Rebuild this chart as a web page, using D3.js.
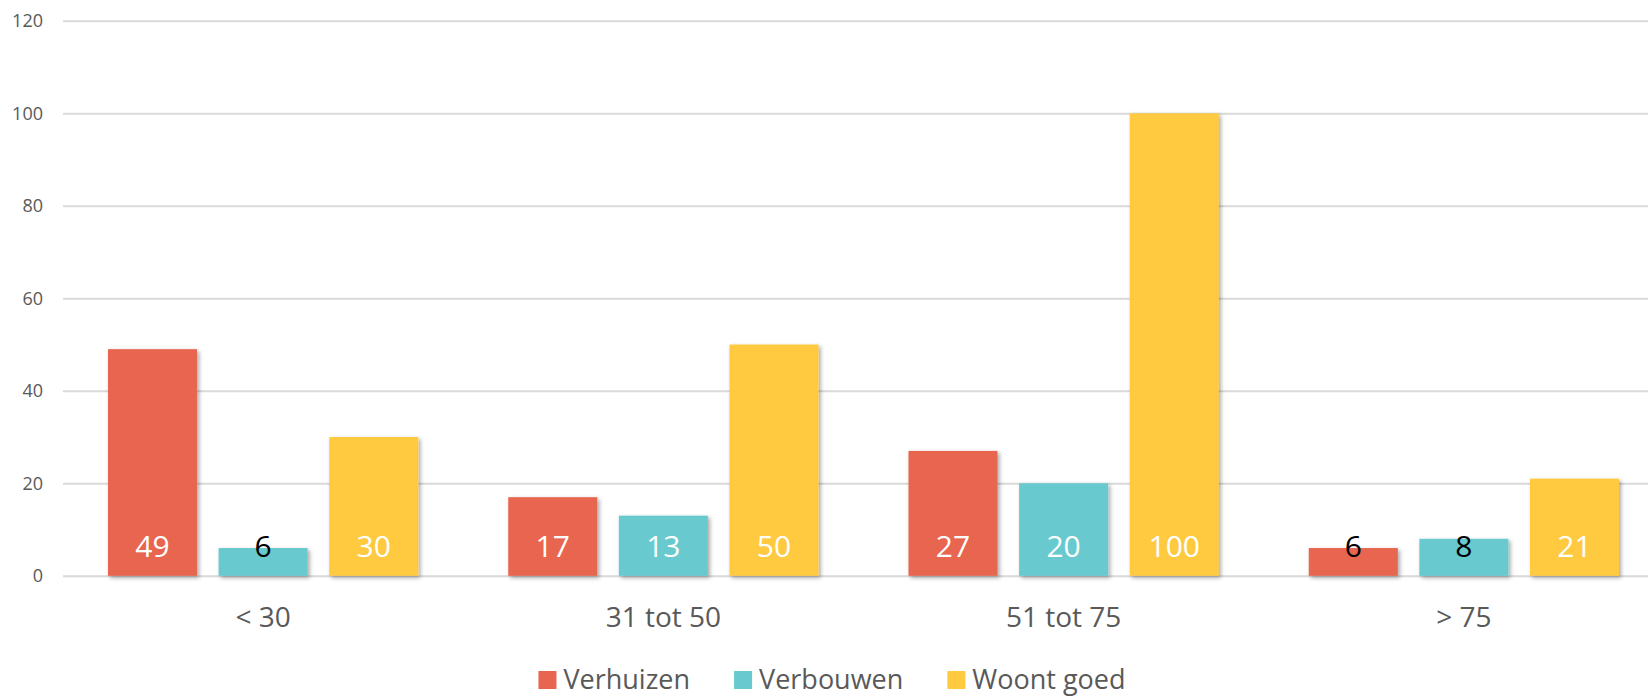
<!DOCTYPE html>
<html lang="nl">
<head>
<meta charset="UTF-8">
<title>Woonwensen per leeftijd</title>
<script src="https://cdn.jsdelivr.net/npm/d3@7/dist/d3.min.js"></script>
<style>
  body { margin:0; background:#fff; }
  svg { display:block; font-family:"Open Sans", sans-serif; }
</style>
</head>
<body>
<svg id="chart" width="1648" height="696"></svg>
<script>
// data
var categories=['< 30','31 tot 50','51 tot 75','> 75']
var series=['Verhuizen','Verbouwen','Woont goed']
var verhuizen=[49,17,27,6]
var verbouwen=[6,13,20,8]
var woontGoed=[30,50,100,21]
var yTicks=[0,20,40,60,80,100,120]
var colores={'Verhuizen':'#E8654F','Verbouwen':'#68C9CF','Woont goed':'#FFCA40'}

var valores=[verhuizen,verbouwen,woontGoed]
var datos=categories.map(function(c,i){
  return series.map(function(s,j){ return {cat:c, serie:s, val:valores[j][i]} })
})

var svg=d3.select('#chart')
// ojo: 'top' es window.top, no usar
var mIzq=63, mDer=1664, mSup=20.8, mInf=575.8

// sombra como en el original
var defs=svg.append('defs')
defs.append('filter').attr('id','sombra')
  .attr('x','-10%').attr('y','-10%').attr('width','130%').attr('height','130%')
  .append('feDropShadow')
  .attr('dx',2).attr('dy',2).attr('stdDeviation',2)
  .attr('flood-color','#000').attr('flood-opacity',0.35)

var x0=d3.scaleBand().domain(categories).range([mIzq,mDer]).paddingInner(0).paddingOuter(0)
var x1=d3.scaleBand().domain(series).range([45,x0.bandwidth()-45]).paddingInner(0.195)
var y=d3.scaleLinear().domain([0,120]).range([mInf,mSup])

// grid
var grid=svg.append('g')
  .attr('transform','translate('+mIzq+',0)')
  .call(d3.axisLeft(y).tickValues(yTicks).tickSize(-(mDer-mIzq)).tickFormat(''))
grid.select('.domain').remove()
grid.selectAll('line').attr('stroke','#D9D9D9').attr('stroke-width',2)

// y labels
svg.append('g').selectAll('text').data(yTicks).enter().append('text')
  .attr('x',43).attr('y',function(d){return y(d)})
  .attr('dy','0.35em').attr('text-anchor','end')
  .attr('font-size',18).attr('fill','#595959')
  .text(function(d){return d})

// barras
var grupos=svg.selectAll('.grupo').data(datos).enter().append('g')
  .attr('class','grupo')
  .attr('transform',function(d){return 'translate('+x0(d[0].cat)+',0)'})
grupos.selectAll('rect').data(function(d){return d}).enter().append('rect')
  .attr('x',function(d){return x1(d.serie)})
  .attr('width',x1.bandwidth())
  .attr('y',function(d){return y(d.val)})
  .attr('height',function(d){return y(0)-y(d.val)})
  .attr('fill',function(d){return colores[d.serie]})
  .attr('filter','url(#sombra)')
grupos.selectAll('text').data(function(d){return d}).enter().append('text')
  .attr('x',function(d){return x1(d.serie)+x1.bandwidth()/2})
  .attr('y',557)
  .attr('text-anchor','middle')
  .attr('font-size',30)
  .attr('fill',function(d){return d.val<10?'#000':'#fff'})
  .text(function(d){return d.val})

// x labels
svg.append('g').selectAll('text').data(categories).enter().append('text')
  .attr('x',function(d){return x0(d)+x0.bandwidth()/2})
  .attr('y',627).attr('text-anchor','middle')
  .attr('font-size',28).attr('fill','#595959')
  .text(function(d){return d})

// leyenda
var leyenda=svg.append('g')
var items=leyenda.selectAll('g').data(series).enter().append('g')
items.append('rect').attr('width',18).attr('height',18).attr('y',671)
  .attr('fill',function(d){return colores[d]})
items.append('text').attr('x',25).attr('y',680).attr('dy','0.35em')
  .attr('font-size',27).attr('fill','#595959')
  .text(function(d){return d})
var pos=0, offs=[]
items.each(function(d){
  offs.push(pos)
  pos+=25+d3.select(this).select('text').node().getComputedTextLength()+44
})
var total=pos-44
var inicio=832-total/2
items.attr('transform',function(d,i){return 'translate('+(inicio+offs[i])+',0)'})
</script>
</body>
</html>
